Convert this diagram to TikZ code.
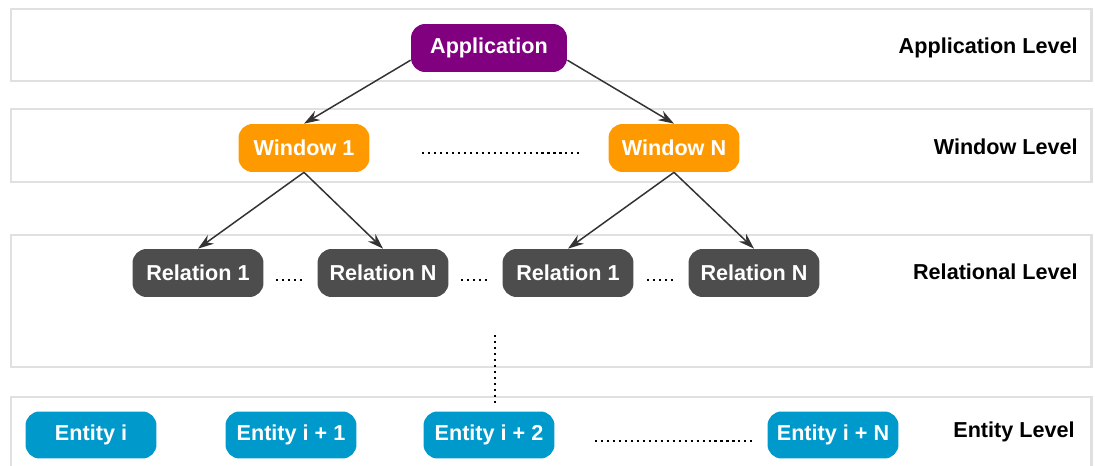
\documentclass[tikz,border=0pt]{standalone}
\usepackage{fontspec}
\setmainfont{Liberation Sans}
\usepackage{xcolor}
\usetikzlibrary{positioning, calc, arrows.meta}

\definecolor{appcol}{HTML}{800080}
\definecolor{wincol}{HTML}{FF9900}
\definecolor{relcol}{HTML}{4D4D4D}
\definecolor{entcol}{HTML}{0099CC}
\definecolor{bandcol}{HTML}{E0E0E0}
\definecolor{linecol}{HTML}{333333}

\tikzset{
    box/.style={rounded corners=8pt, text=white, font=\fontsize{12.3}{14}\selectfont\bfseries,
                minimum width=2.62cm, minimum height=0.96cm, inner sep=0pt},
    appbox/.style={box, fill=appcol, minimum width=3.12cm},
    winbox/.style={box, fill=wincol},
    relbox/.style={box, fill=relcol},
    entbox/.style={box, fill=entcol, minimum height=0.94cm},
    band/.style={draw=bandcol, line width=1.7pt},
    levellabel/.style={anchor=east, font=\fontsize{12.3}{14}\selectfont\bfseries, inner sep=0pt},
    conn/.style={draw=linecol, line width=0.85pt, -{Stealth[length=9pt, width=6pt]}},
    dots/.style={line width=1.2pt, dash pattern=on 1.2pt off 2.2pt}
}

\begin{document}
\begin{tikzpicture}[x=0.02cm, y=-0.02cm]
                    \useasboundingbox (0,0) rectangle (1095,466);

                    % level bands
                    \draw[band] (11,9) rectangle (1091,81);
                    \draw[band] (11,109) rectangle (1091,182);
                    \draw[band] (11,235) rectangle (1091,367);
                    \draw[band] (11,480) -- (11,397) -- (1091,397) -- (1091,480);

                    \node[levellabel] (lapp) at (1078,48) {Application Level};
                    \node[levellabel] (lwin) at (1078,147) {Window Level};
                    \node[levellabel] (lrel) at (1078,272) {Relational Level};
                    \node[levellabel] (lent) at (1075,432) {Entity Level};

                    % nodes
                    \node[appbox] (app) at (489,48) {Application};

                    \node[winbox] (win1) at (304,148) {Window 1};
                    \node[winbox] (winN) at (674,148) {Window N};

                    \node[relbox] (rel1a) at (198,273) {Relation 1};
                    \node[relbox] (relNa) at (383,273) {Relation N};
                    \node[relbox] (rel1b) at (568,273) {Relation 1};
                    \node[relbox] (relNb) at (754,273) {Relation N};

                    \node[entbox] (ent0) at (91,435) {Entity i};
                    \node[entbox] (ent1) at (291,435) {Entity i + 1};
                    \node[entbox] (ent2) at (489,435) {Entity i + 2};
                    \node[entbox] (entN) at (833,435) {Entity i + N};

                    % connectors
                    \draw[conn] ($(app.west)!0.5!(app.south west)$) -- (win1.north);
                    \draw[conn] ($(app.east)!0.5!(app.south east)$) -- (winN.north);
                    \draw[conn] (win1.south) -- (rel1a.north);
                    \draw[conn] (win1.south) -- (relNa.north);
                    \draw[conn] (winN.south) -- (rel1b.north);
                    \draw[conn] (winN.south) -- (relNb.north);

                    % dotted gaps
                    \draw[dots] (422,153) -- (582,153);
                    \draw[dots] (276,280) -- (304,280);
                    \draw[dots] (461,280) -- (489,280);
                    \draw[dots] (647,280) -- (675,280);
                    \draw[dots] (595,441) -- (755,441);
                    \draw[dots] (495,335) -- (495,405);
                \end{tikzpicture}
\end{document}
